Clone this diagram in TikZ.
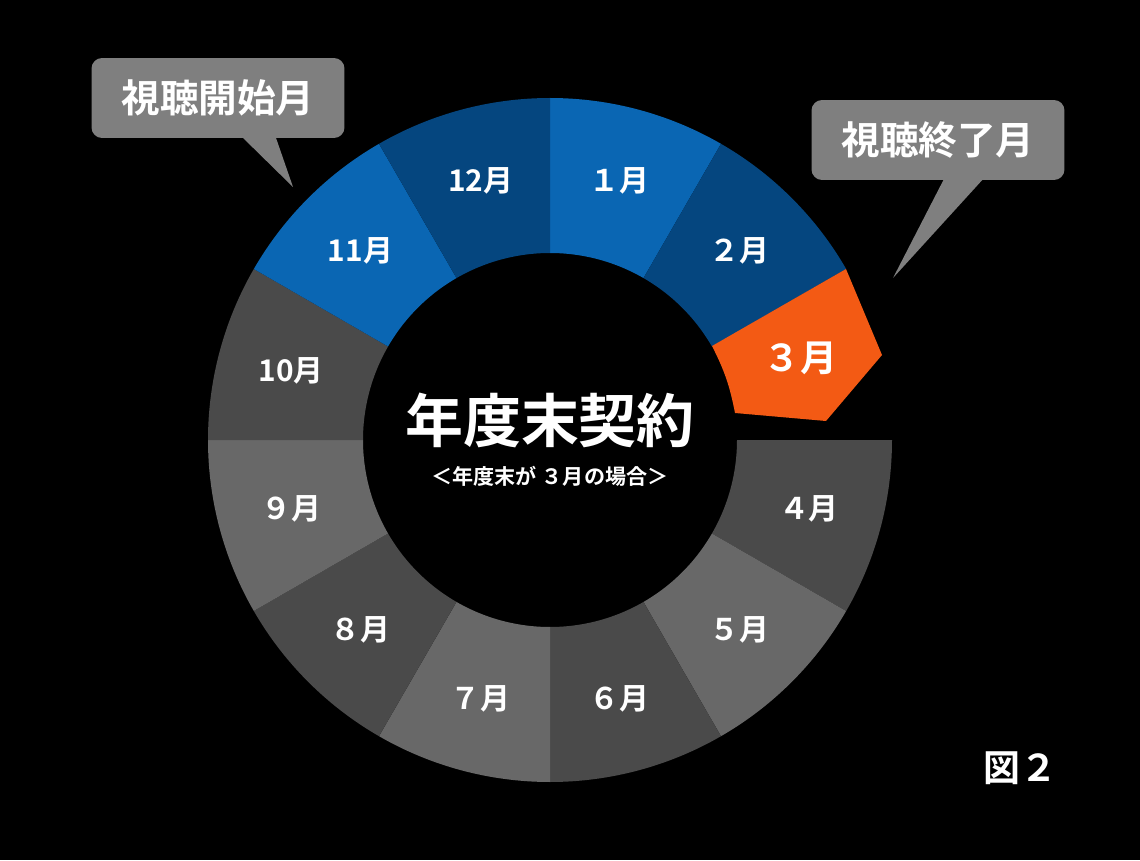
\documentclass[tikz,border=0pt]{standalone}
\usepackage{fontspec}
\setmainfont{Noto Sans CJK JP}[BoldFont={Noto Sans CJK JP Bold}]
\usetikzlibrary{calc}
\definecolor{blueA}{HTML}{0A66B3}
\definecolor{blueB}{HTML}{05467F}
\definecolor{grayA}{HTML}{4A4A4A}
\definecolor{grayB}{HTML}{686868}
\definecolor{orangeA}{HTML}{F35A14}
\definecolor{calloutgray}{HTML}{7F7F7F}
\tikzset{
  monthlabel/.style={text=white,font=\bfseries\fontsize{17}{17}\selectfont},
  callout/.style={fill=calloutgray,rounded corners=6pt,text=white,font=\bfseries\fontsize{22}{22}\selectfont,minimum width=5.06cm,minimum height=1.6cm},
}
\begin{document}
\begin{tikzpicture}[x=0.02cm,y=0.02cm]
\fill[black] (0,0) rectangle (1140,860);
\coordinate (c) at (550,420);
% ring segments
\foreach \m/\col/\txt in {1/blueA/１月, 2/blueB/２月, 4/grayA/４月, 5/grayB/５月, 6/grayA/６月, 7/grayB/７月, 8/grayA/８月, 9/grayB/９月, 10/grayA/10月, 11/blueA/11月, 12/blueB/12月}
{
  \pgfmathsetmacro\a{90-30*(\m-1)}
  \pgfmathsetmacro\b{90-30*\m}
  \fill[\col] ($(c)+(\a:342)$) arc[start angle=\a,end angle=\b,radius=342]
      -- ($(c)+(\b:187)$) arc[start angle=\b,end angle=\a,radius=187] -- cycle;
  \node[monthlabel] (m\m) at ($(c)+({(\a+\b)/2}:268)$) {\txt};
}
% 3月 (sticking out)
\fill[orangeA] (712,514) -- (846,591) -- (882,505) -- (826,439) -- (735,447)
  to[bend right=8] (712,514) -- cycle;
\node[text=white,font=\bfseries\fontsize{21}{21}\selectfont] (m3) at (800,502) {３月};
% centre
\node[text=white,font=\bfseries\fontsize{33}{33}\selectfont] (title) at (550,440) {年度末契約};
\node[text=white,font=\bfseries\fontsize{12}{12}\selectfont] (sub) at (550,384) {＜年度末が ３月の場合＞};
% callouts
\node[callout] (start) at (218,762) {視聴開始月};
\fill[calloutgray] (240,725) -- (293,673) -- (275,725) -- cycle;
\node[callout] (end) at (938,720) {視聴終了月};
\fill[calloutgray] (945,683) -- (893,582) -- (985,683) -- cycle;
\node[text=white,font=\bfseries\fontsize{21}{21}\selectfont] (fig) at (1020,92) {図２};
\end{tikzpicture}
\end{document}
